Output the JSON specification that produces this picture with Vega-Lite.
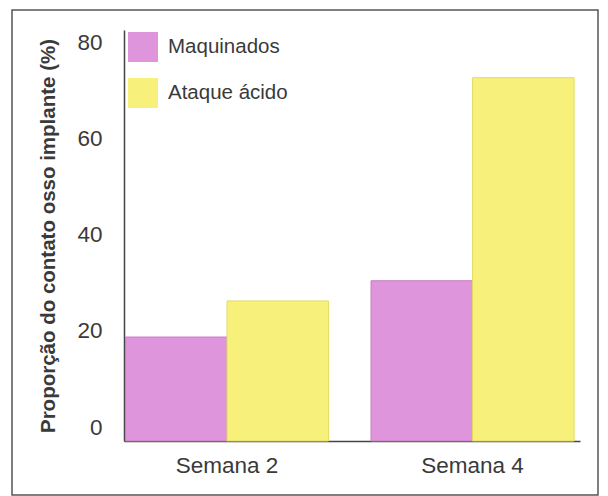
{
  "$schema": "https://vega.github.io/schema/vega-lite/v6.json",
  "autosize": {"type": "none"},
  "width": 586,
  "height": 485,
  "padding": {"left": 12, "top": 10, "right": 10, "bottom": 1},
  "background": "#ffffff",
  "config": {
    "font": "Liberation Sans",
    "view": {"stroke": "#555555", "strokeWidth": 1.5},
    "axis": {"labelColor": "#3a3a3a", "titleColor": "#3a3a3a", "domainColor": "#444444", "domainWidth": 1.5, "ticks": false, "grid": false}
  },
  "data": {
    "values": [
      {"Semana": "Semana 2", "Tratamento": "Maquinados", "Valor": 18.7},
      {"Semana": "Semana 2", "Tratamento": "Ataque ácido", "Valor": 26.2},
      {"Semana": "Semana 4", "Tratamento": "Maquinados", "Valor": 30.4},
      {"Semana": "Semana 4", "Tratamento": "Ataque ácido", "Valor": 72.6}
    ]
  },
  "mark": {"type": "bar", "strokeWidth": 1},
  "encoding": {
    "x": {
      "field": "Semana", "type": "nominal",
      "scale": {"range": [112, 568], "paddingInner": 0.173, "paddingOuter": 0.015, "align": 0.2},
      "axis": {"title": null, "labelAngle": 0, "labelFontSize": 22.5, "labelPadding": 13, "offset": -54}
    },
    "xOffset": {
      "field": "Tratamento", "type": "nominal",
      "sort": ["Maquinados", "Ataque ácido"],
      "scale": {"paddingInner": 0, "paddingOuter": 0}
    },
    "y": {
      "field": "Valor", "type": "quantitative",
      "scale": {"domain": [-2.9, 82.5], "range": [431, 20], "nice": false, "zero": false},
      "axis": {"title": "Proporção do contato osso implante (%)", "titleFontSize": 20.5, "titleFontWeight": "bold", "titlePadding": 18, "values": [0, 20, 40, 60, 80], "labelFontSize": 22.5, "labelPadding": 22, "offset": -112}
    },
    "y2": {"datum": -2.9},
    "color": {
      "field": "Tratamento", "type": "nominal",
      "sort": ["Maquinados", "Ataque ácido"],
      "scale": {"domain": ["Maquinados", "Ataque ácido"], "range": ["#df95db", "#f7f07b"]},
      "legend": {"title": null, "orient": "none", "legendX": 116, "legendY": 22, "symbolType": "square", "symbolSize": 900, "symbolStrokeWidth": 0, "labelFontSize": 20.5, "labelColor": "#3a3a3a", "labelOffset": 10, "rowPadding": 16, "padding": 0}
    },
    "stroke": {
      "field": "Tratamento", "type": "nominal",
      "scale": {"domain": ["Maquinados", "Ataque ácido"], "range": ["#c77dc3", "#e3dc62"]},
      "legend": null
    }
  }
}
